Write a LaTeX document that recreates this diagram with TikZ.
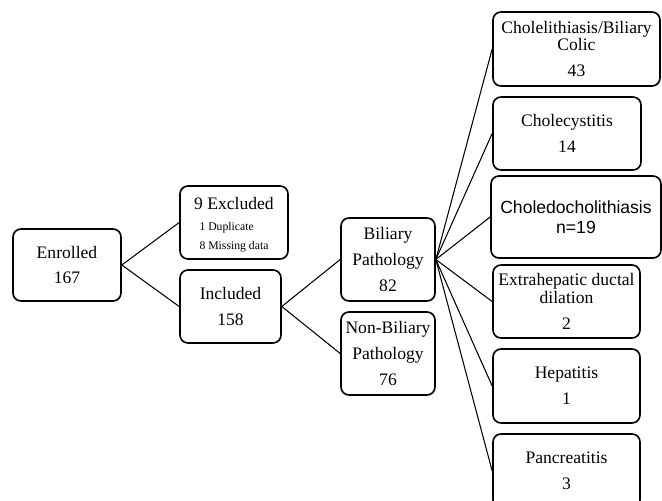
\documentclass[tikz,border=0pt]{standalone}
\usepackage{fontspec}
\setmainfont{Liberation Serif}
\newfontfamily\arialfont{Liberation Sans}
\usepackage{tikz}
\usetikzlibrary{positioning}

\begin{document}
\begin{tikzpicture}[x=0.03cm, y=-0.03cm]

% Define styles for different elements
\tikzstyle{box} = [rectangle, rounded corners=0.24cm, draw=black, line width=1.4pt, align=center, inner sep=1pt, font=\fontsize{15}{22}\selectfont]
\tikzstyle{link} = [line width=0.9pt]

\clip (0,0) rectangle (662,501);

% Draw the nodes
\node (enrolled) [box, minimum width=3.24cm, minimum height=2.16cm] at (67,265) {Enrolled\\167};
\node (excluded) [box, minimum width=3.24cm, minimum height=2.19cm] at (234,222.5) {\rule{0pt}{16.5pt}9 Excluded\\[4pt]{\fontsize{10}{16}\selectfont\begin{tabular}{@{}l@{}}1 Duplicate\\8 Missing data\end{tabular}}};
\node (included) [box, minimum width=3.03cm, minimum height=2.19cm] at (230.5,306.5) {Included\\158};
\node (biliary) [box, minimum width=2.82cm, minimum height=2.49cm] at (388,259.5) {Biliary\\Pathology\\82};
\node (nonbiliary) [box, minimum width=2.82cm, minimum height=2.49cm] at (388,353.5) {Non-Biliary\\Pathology\\76};

\node (colic) [box, minimum width=5.01cm, minimum height=2.22cm] at (576.5,49) {Cholelithiasis/Biliary\\[-7pt]Colic\\43};
\node (cholecyst) [box, minimum width=4.44cm, minimum height=2.19cm] at (567,133.5) {Cholecystitis\\14};
\node (choledoch) [box, minimum width=5.1cm, minimum height=2.46cm] at (576,217) {\arialfont Choledocholithiasis\\[-5pt]\arialfont n=19};
\node (dilation) [box, minimum width=4.41cm, minimum height=2.19cm] at (566.5,301.5) {Extrahepatic ductal\\[-7pt]dilation\\2};
\node (hepatitis) [box, minimum width=4.41cm, minimum height=2.22cm] at (566.5,386) {Hepatitis\\1};
\node (pancreat) [box, minimum width=4.41cm, minimum height=2.22cm] at (566.5,471) {Pancreatitis\\3};

% Draw the lines
\draw [link] (enrolled.east) -- (excluded.west);
\draw [link] (enrolled.east) -- (included.west);
\draw [link] (included.east) -- (biliary.west);
\draw [link] (included.east) -- (nonbiliary.west);
\draw [link] (biliary.east) -- (colic.west);
\draw [link] (biliary.east) -- (cholecyst.west);
\draw [link] (biliary.east) -- (choledoch.west);
\draw [link] (biliary.east) -- (dilation.west);
\draw [link] (biliary.east) -- (hepatitis.west);
\draw [link] (biliary.east) -- (pancreat.west);
\end{tikzpicture}
\end{document}
